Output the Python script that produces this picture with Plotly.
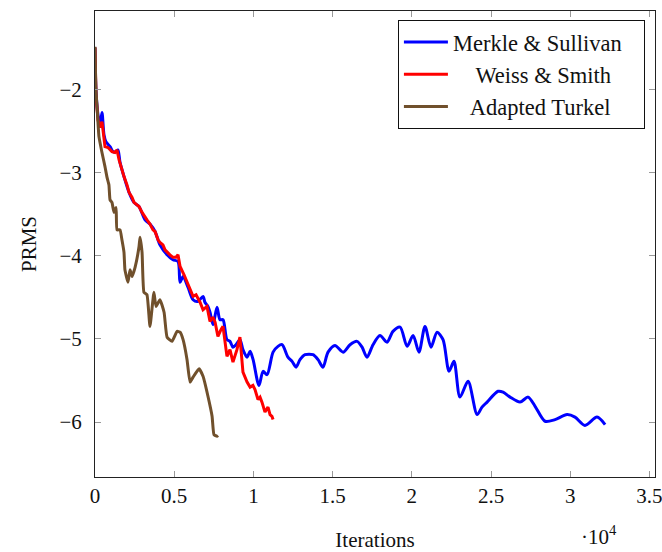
import plotly.graph_objects as go

# ---- data (iterations, PRMS) ----
merkle_x = [0, 60, 190, 320, 440, 570, 690, 950, 1140, 1330,
            1450, 1580, 1830, 2150, 2460, 2780, 3160, 3470, 3790, 4100,
            4550, 4920, 5240, 5370, 5560, 5870, 6190, 6500, 6820, 6940,
            7130, 7260, 7450, 7700, 7890, 8080, 8330, 8520, 8710, 8900,
            9150, 9340, 9600, 9790, 9980, 10350, 10610, 10860, 11240, 11550,
            11810, 12180, 12440, 12690, 12940, 13260, 13760, 14080, 14390, 14710,
            15150, 15660, 16100, 16540, 16860, 17170, 17550, 17990, 18430, 18810,
            19260, 19700, 20080, 20450, 20830, 21210, 21590, 21970, 22350, 22660,
            23040, 23550, 24120, 24430, 24750, 25440, 25760, 26200, 26830, 27340,
            27780, 28410, 29040, 29800, 30300, 30930, 31690, 32200]
merkle_y = [-1.50, -2.01, -2.31, -2.43, -2.28, -2.55, -2.63, -2.69, -2.75, -2.75,
            -2.73, -2.88, -3.05, -3.24, -3.36, -3.41, -3.57, -3.62, -3.71, -3.87,
            -3.99, -4.05, -4.07, -4.32, -4.25, -4.38, -4.53, -4.55, -4.49, -4.56,
            -4.61, -4.68, -4.83, -4.62, -4.77, -4.77, -5.01, -5.03, -5.10, -5.07,
            -5.01, -5.13, -5.22, -5.15, -5.25, -5.56, -5.39, -5.43, -5.16, -5.09,
            -5.07, -5.22, -5.27, -5.34, -5.25, -5.19, -5.19, -5.25, -5.34, -5.16,
            -5.08, -5.16, -5.07, -5.03, -5.10, -5.22, -5.07, -4.96, -5.04, -4.91,
            -4.86, -5.09, -4.96, -5.16, -4.85, -5.10, -4.92, -5.01, -5.39, -5.27,
            -5.70, -5.51, -5.91, -5.82, -5.76, -5.63, -5.64, -5.70, -5.76, -5.70,
            -5.81, -5.99, -5.97, -5.91, -5.94, -6.04, -5.94, -6.03]

weiss_x = [0, 60, 190, 320, 440, 630, 820, 1070, 1260, 1390,
           1520, 1700, 1830, 2020, 2150, 2340, 2460, 2650, 2780, 2970,
           3160, 3280, 3470, 3660, 3790, 3980, 4100, 4290, 4420, 4550,
           4730, 4920, 5110, 5240, 5370, 5620, 5810, 6000, 6190, 6380,
           6630, 6820, 7070, 7260, 7450, 7580, 7760, 7950, 8080, 8330,
           8520, 8710, 8960, 9150, 9340, 9600, 9790, 9970, 10100, 10290,
           10420, 10540, 10730, 10920, 11050, 11170, 11240]
weiss_y = [-1.50, -2.07, -2.37, -2.46, -2.39, -2.69, -2.70, -2.75, -2.76, -2.73,
           -2.85, -2.97, -3.05, -3.15, -3.24, -3.30, -3.36, -3.39, -3.41, -3.48,
           -3.54, -3.57, -3.62, -3.69, -3.71, -3.81, -3.84, -3.87, -3.93, -3.96,
           -3.99, -4.02, -4.02, -3.99, -4.13, -4.23, -4.32, -4.41, -4.49, -4.47,
           -4.56, -4.65, -4.61, -4.79, -4.74, -4.80, -4.97, -4.89, -4.85, -5.21,
           -5.13, -5.28, -5.13, -4.98, -5.40, -5.52, -5.58, -5.56, -5.61, -5.73,
           -5.70, -5.76, -5.88, -5.82, -5.91, -5.93, -5.97]

turkel_x = [0, 60, 130, 250, 440, 630, 760, 880, 950, 1070,
            1200, 1330, 1390, 1580, 1700, 1830, 1890, 2080, 2210, 2340,
            2530, 2780, 2840, 2970, 3090, 3280, 3470, 3720, 3850, 4100,
            4360, 4550, 4860, 5180, 5370, 5560, 5810, 6000, 6190, 6570,
            6820, 7130, 7390, 7510, 7700, 7760]
turkel_y = [-1.49, -2.01, -2.21, -2.57, -2.76, -2.93, -3.06, -3.15, -3.33, -3.36,
            -3.48, -3.42, -3.69, -3.69, -3.81, -3.96, -4.17, -4.32, -4.17, -4.25,
            -4.14, -3.89, -3.78, -3.96, -4.44, -4.47, -4.85, -4.44, -4.61, -4.53,
            -4.68, -4.98, -5.03, -4.91, -4.92, -5.01, -5.25, -5.52, -5.46, -5.36,
            -5.45, -5.69, -5.93, -6.15, -6.17, -6.16]

x_tick_vals = [0, 5000, 10000, 15000, 20000, 25000, 30000, 35000]
x_tick_text = ["0", "0.5", "1", "1.5", "2", "2.5", "3", "3.5"]
y_tick_vals = [-6, -5, -4, -3, -2]

names = ["Merkle & Sullivan", "Weiss & Smith", "Adapted Turkel"]

FONT = "Liberation Serif"
NB = "\u00a0"

fig = go.Figure()
fig.add_trace(go.Scatter(x=merkle_x, y=merkle_y, mode="lines",
                         name=names[0] + NB * 3,
                         line=dict(color="#0000ff", width=3, shape="spline", smoothing=0.8)))
fig.add_trace(go.Scatter(x=weiss_x, y=weiss_y, mode="lines",
                         name=NB * 4 + names[1],
                         line=dict(color="#ff0000", width=3)))
fig.add_trace(go.Scatter(x=turkel_x, y=turkel_y, mode="lines",
                         name=NB * 3 + names[2],
                         line=dict(color="#70502c", width=3, shape="spline", smoothing=0.4)))

axis_common = dict(showline=True, linecolor="#222", linewidth=1, mirror="ticks",
                   ticks="inside", ticklen=6, tickcolor="#999", tickwidth=1,
                   showgrid=False, zeroline=False, automargin=False,
                   ticklabeloverflow="allow",
                   tickfont=dict(family=FONT, size=21, color="#111"))

fig.update_layout(
    width=662, height=552,
    margin=dict(l=95, r=7, t=11, b=75),
    paper_bgcolor="white", plot_bgcolor="white",
    font=dict(family=FONT, size=21, color="#111"),
    showlegend=True,
    legend=dict(x=0.982, y=0.981, xanchor="right", yanchor="top",
                bordercolor="#111", borderwidth=1, bgcolor="white",
                itemwidth=44, tracegroupgap=0,
                font=dict(family=FONT, size=22.5, color="#111")),
    xaxis=dict(range=[0, 35350], tickvals=x_tick_vals, ticktext=x_tick_text,
               ticklabelstandoff=0,
               title=dict(text="Iterations", font=dict(family=FONT, size=21), standoff=30),
               **axis_common),
    yaxis=dict(range=[-6.66, -1.06], tickvals=y_tick_vals, ticklabelstandoff=8,
               title=dict(text="PRMS", font=dict(family=FONT, size=21), standoff=17),
               **axis_common),
)
fig.add_annotation(text="\u00b710<sup>4</sup>", xref="paper", yref="paper",
                   x=0.900, y=-0.125, showarrow=False, xanchor="center", yanchor="middle",
                   font=dict(family=FONT, size=21, color="#111"))

fig.write_html("out.html")
